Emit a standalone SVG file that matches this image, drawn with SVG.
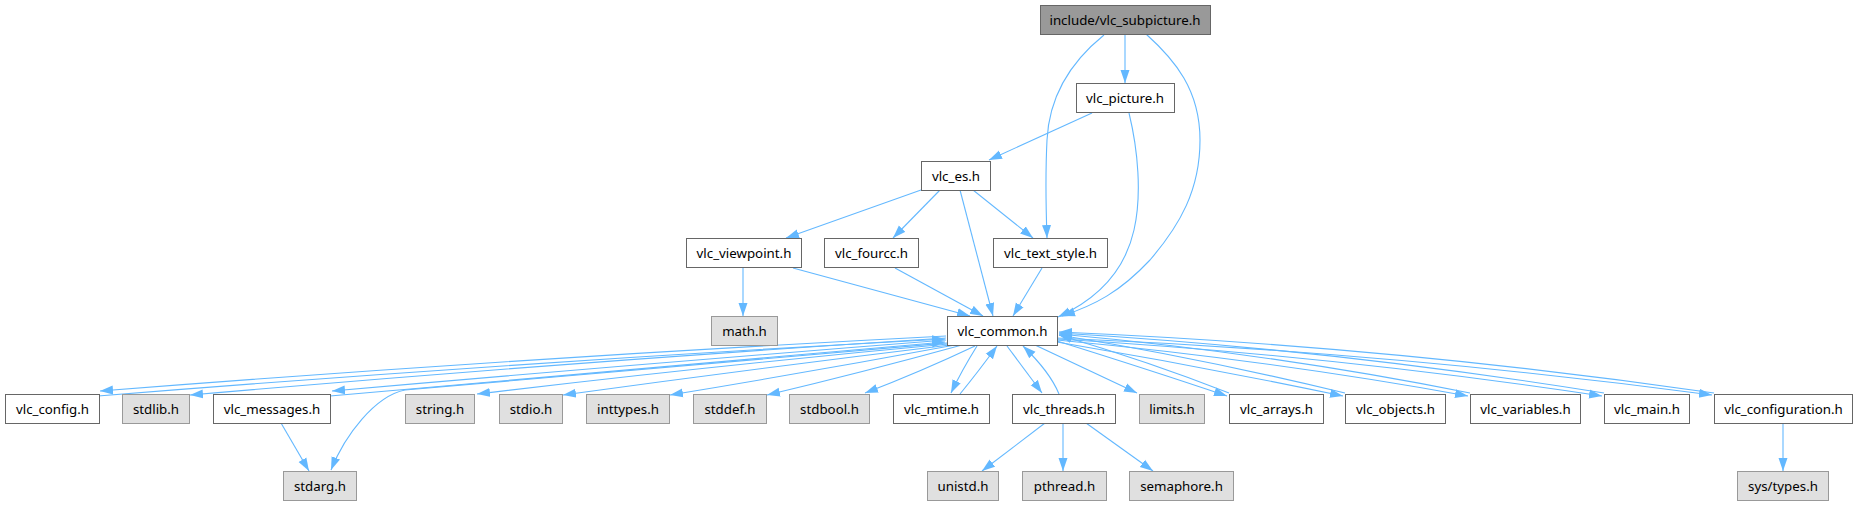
<svg xmlns="http://www.w3.org/2000/svg" width="1857" height="506" viewBox="0 0 1857 506">
<style>
.n rect{fill:#ffffff;stroke:#666666;stroke-width:1}
.g rect{fill:#e0e0e0;stroke:#999999;stroke-width:1}
.r rect{fill:#999999;stroke:#666666;stroke-width:1}
text{font-family:"Noto Sans","DejaVu Sans",sans-serif;font-size:13.3px;text-anchor:middle;fill:#000000}
#edges path{fill:none;stroke:#63b8ff;stroke-width:1.1;marker-end:url(#a)}
</style>
<defs>
<marker id="a" markerUnits="userSpaceOnUse" markerWidth="14" markerHeight="11" refX="13" refY="5" orient="auto"><path d="M0,0.5 L13,5 L0,9.5 z" fill="#63b8ff"/></marker>
</defs>
<rect width="1857" height="506" fill="#ffffff"/>
<g id="edges">
<path d="M1125,34 L1125,83"/>
<path d="M1104,35 C1068,64 1049,100 1047,140 C1045,180 1046,210 1047,238"/>
<path d="M1146,34 C1175,60 1200,90 1200,140 C1200,190 1180,225 1150,260 C1120,292 1095,305 1062,316"/>
<path d="M1092,113 L989,160"/>
<path d="M1129,113 C1138,150 1142,195 1134,230 C1125,270 1100,298 1058,317"/>
<path d="M921,190 L786,238"/>
<path d="M940,190 L893,238"/>
<path d="M973,190 L1033,238"/>
<path d="M960,190 L993,316"/>
<path d="M743,268 L743,316"/>
<path d="M793,268 L970,316"/>
<path d="M895,268 L983,316"/>
<path d="M1042,268 L1013,316"/>
<path d="M946,336 Q520,358 100,391"/>
<path d="M98,396 Q520,362 945,339"/>
<path d="M946,338 Q570,362 190,395"/>
<path d="M946,340 Q640,364 332,391"/>
<path d="M330,396 Q640,368 945,342"/>
<path d="M947,343 C700,364 450,385 405,390 C375,396 345,435 331,470"/>
<path d="M948,344 Q720,365 477,394"/>
<path d="M950,345 Q760,368 563,395"/>
<path d="M955,345 Q810,372 670,395"/>
<path d="M962,345 Q860,373 767,395"/>
<path d="M975,346 Q920,372 865,393"/>
<path d="M977,346 Q962,370 951,393"/>
<path d="M960,394 Q978,372 997,346"/>
<path d="M1007,346 L1042,393"/>
<path d="M1059,394 Q1050,372 1023,346"/>
<path d="M1035,345 L1137,393"/>
<path d="M1057,341 Q1150,370 1227,396"/>
<path d="M1229,393 Q1150,362 1059,335"/>
<path d="M1057,342 Q1200,366 1343,396"/>
<path d="M1345,393 Q1200,358 1059,335"/>
<path d="M1057,340 Q1270,360 1468,396"/>
<path d="M1470,393 Q1270,353 1059,334"/>
<path d="M1057,339 Q1330,355 1602,396"/>
<path d="M1604,393 Q1330,349 1059,333"/>
<path d="M1057,338 Q1390,352 1712,395"/>
<path d="M1714,393 Q1390,346 1059,332"/>
<path d="M281,423 L309,471"/>
<path d="M1045,423 L982,471"/>
<path d="M1063,423 L1063,471"/>
<path d="M1086,423 L1153,471"/>
<path d="M1783,423 L1783,471"/>
</g>
<g id="n_root" class="r"><rect x="1040.5" y="5.5" width="170" height="29"/><text x="1125" y="24.5">include/vlc_subpicture.h</text></g>
<g id="n_picture" class="n"><rect x="1076.5" y="83.5" width="98" height="29"/><text x="1125" y="102.5">vlc_picture.h</text></g>
<g id="n_es" class="n"><rect x="921.5" y="161.5" width="69" height="29"/><text x="956" y="180.5">vlc_es.h</text></g>
<g id="n_viewpoint" class="n"><rect x="686.5" y="238.5" width="115" height="29"/><text x="744" y="257.5">vlc_viewpoint.h</text></g>
<g id="n_fourcc" class="n"><rect x="824.5" y="238.5" width="94" height="29"/><text x="871.5" y="257.5">vlc_fourcc.h</text></g>
<g id="n_text_style" class="n"><rect x="993.5" y="238.5" width="114" height="29"/><text x="1050.5" y="257.5">vlc_text_style.h</text></g>
<g id="n_math" class="g"><rect x="711.5" y="316.5" width="66" height="29"/><text x="744.5" y="335.5">math.h</text></g>
<g id="n_common" class="n"><rect x="947.5" y="316.5" width="110" height="29"/><text x="1002.5" y="335.5">vlc_common.h</text></g>
<g id="n_config" class="n"><rect x="5.5" y="394.5" width="94" height="29"/><text x="52.5" y="413.5">vlc_config.h</text></g>
<g id="n_stdlib" class="g"><rect x="122.5" y="394.5" width="67" height="29"/><text x="156" y="413.5">stdlib.h</text></g>
<g id="n_messages" class="n"><rect x="213.5" y="394.5" width="117" height="29"/><text x="272" y="413.5">vlc_messages.h</text></g>
<g id="n_string" class="g"><rect x="405.5" y="394.5" width="69" height="29"/><text x="440" y="413.5">string.h</text></g>
<g id="n_stdio" class="g"><rect x="499.5" y="394.5" width="63" height="29"/><text x="531" y="413.5">stdio.h</text></g>
<g id="n_inttypes" class="g"><rect x="586.5" y="394.5" width="83" height="29"/><text x="628" y="413.5">inttypes.h</text></g>
<g id="n_stddef" class="g"><rect x="693.5" y="394.5" width="73" height="29"/><text x="730" y="413.5">stddef.h</text></g>
<g id="n_stdbool" class="g"><rect x="789.5" y="394.5" width="80" height="29"/><text x="829.5" y="413.5">stdbool.h</text></g>
<g id="n_mtime" class="n"><rect x="893.5" y="394.5" width="96" height="29"/><text x="941.5" y="413.5">vlc_mtime.h</text></g>
<g id="n_threads" class="n"><rect x="1012.5" y="394.5" width="103" height="29"/><text x="1064" y="413.5">vlc_threads.h</text></g>
<g id="n_limits" class="g"><rect x="1139.5" y="394.5" width="65" height="29"/><text x="1172" y="413.5">limits.h</text></g>
<g id="n_arrays" class="n"><rect x="1229.5" y="394.5" width="94" height="29"/><text x="1276.5" y="413.5">vlc_arrays.h</text></g>
<g id="n_objects" class="n"><rect x="1345.5" y="394.5" width="100" height="29"/><text x="1395.5" y="413.5">vlc_objects.h</text></g>
<g id="n_variables" class="n"><rect x="1470.5" y="394.5" width="110" height="29"/><text x="1525.5" y="413.5">vlc_variables.h</text></g>
<g id="n_main" class="n"><rect x="1604.5" y="394.5" width="85" height="29"/><text x="1647" y="413.5">vlc_main.h</text></g>
<g id="n_configuration" class="n"><rect x="1714.5" y="394.5" width="138" height="29"/><text x="1783.5" y="413.5">vlc_configuration.h</text></g>
<g id="n_stdarg" class="g"><rect x="283.5" y="471.5" width="73" height="29"/><text x="320" y="490.5">stdarg.h</text></g>
<g id="n_unistd" class="g"><rect x="927.5" y="471.5" width="71" height="29"/><text x="963" y="490.5">unistd.h</text></g>
<g id="n_pthread" class="g"><rect x="1022.5" y="471.5" width="84" height="29"/><text x="1064.5" y="490.5">pthread.h</text></g>
<g id="n_semaphore" class="g"><rect x="1129.5" y="471.5" width="104" height="29"/><text x="1181.5" y="490.5">semaphore.h</text></g>
<g id="n_systypes" class="g"><rect x="1737.5" y="471.5" width="91" height="29"/><text x="1783" y="490.5">sys/types.h</text></g>
</svg>
